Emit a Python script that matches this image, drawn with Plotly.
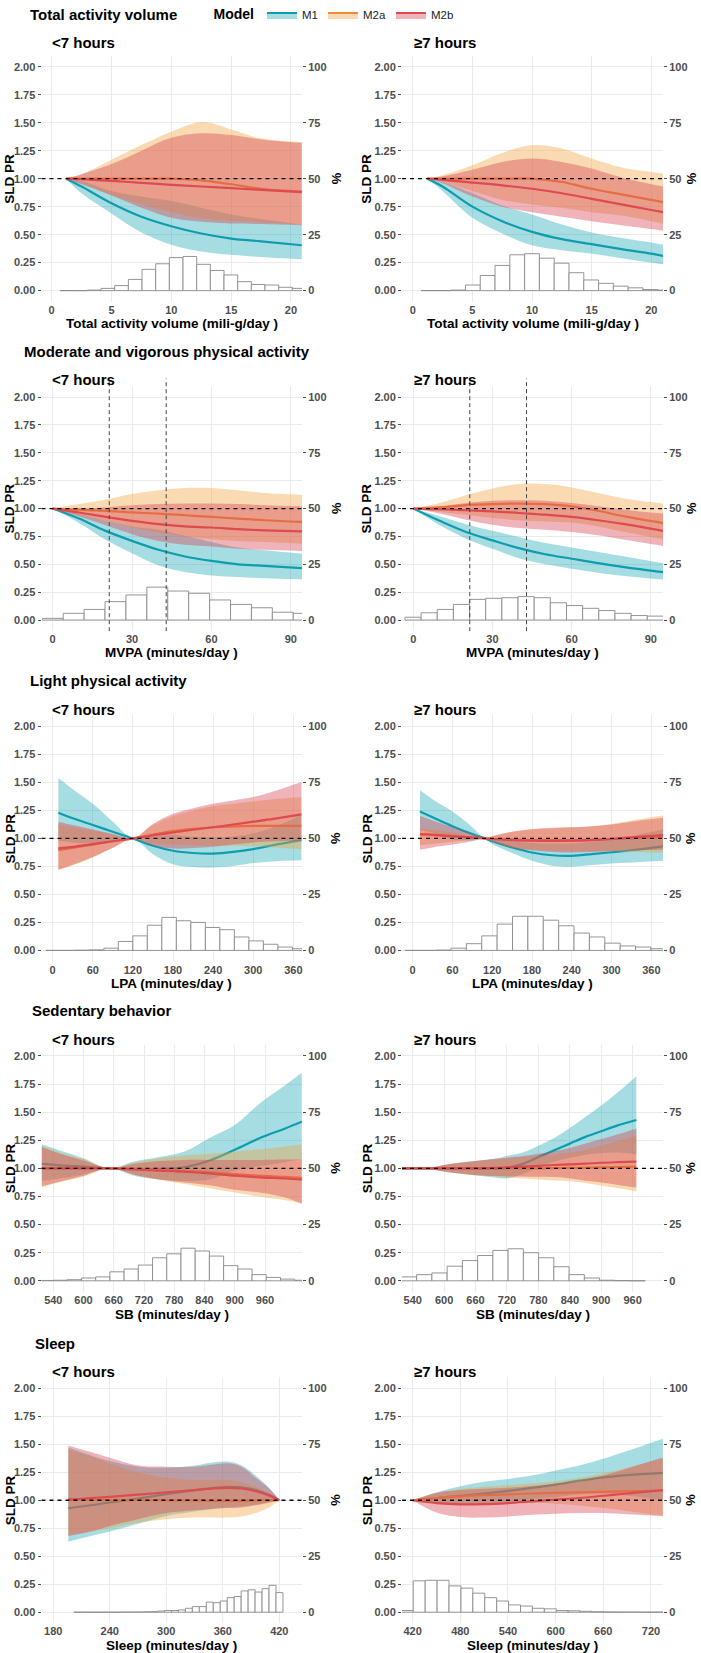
import plotly.graph_objects as go

W, H = 701, 1653
FONT = "Liberation Sans, Arial, Helvetica, sans-serif"

# ============================ DATA ============================
models = ["M1", "M2a", "M2b"]

# ---- Total activity volume, <7 hours
tav_lt7_x = [1.2, 2.5, 5, 7.5, 10, 12.5, 15, 17.5, 20.9]
tav_lt7_m1 = [1.0, 0.93, 0.78, 0.66, 0.575, 0.51, 0.465, 0.44, 0.405]
tav_lt7_m1_lo = [1.0, 0.87, 0.69, 0.52, 0.41, 0.35, 0.32, 0.30, 0.28]
tav_lt7_m1_hi = [1.0, 0.98, 0.89, 0.84, 0.80, 0.74, 0.68, 0.64, 0.59]
tav_lt7_m2a = [1.0, 1.0, 1.0, 1.0, 1.0, 0.985, 0.95, 0.91, 0.885]
tav_lt7_m2a_lo = [1.0, 0.96, 0.855, 0.77, 0.70, 0.645, 0.625, 0.61, 0.59]
tav_lt7_m2a_hi = [1.0, 1.04, 1.17, 1.30, 1.42, 1.505, 1.44, 1.36, 1.325]
tav_lt7_m2b = [1.0, 0.995, 0.98, 0.963, 0.945, 0.93, 0.915, 0.9, 0.88]
tav_lt7_m2b_lo = [1.0, 0.95, 0.85, 0.74, 0.65, 0.615, 0.60, 0.595, 0.585]
tav_lt7_m2b_hi = [1.0, 1.04, 1.13, 1.25, 1.365, 1.405, 1.39, 1.35, 1.32]
tav_lt7_bin_start, tav_lt7_bin_width = 0.70, 1.142
tav_lt7_hist_pct = [0, 0, 0.25, 1, 2.25, 5, 9.5, 12, 14.75, 15.25, 11.75, 9, 7, 4, 2.75, 2.5, 1.5, 1]

# ---- Total activity volume, >=7 hours
tav_ge7_x = [1.23, 2.5, 5, 7.5, 10, 12.5, 15, 17.5, 20, 21]
tav_ge7_m1 = [1.0, 0.93, 0.75, 0.62, 0.525, 0.46, 0.415, 0.37, 0.33, 0.31]
tav_ge7_m1_lo = [1.0, 0.89, 0.65, 0.51, 0.405, 0.36, 0.33, 0.29, 0.25, 0.235]
tav_ge7_m1_hi = [1.0, 0.97, 0.87, 0.76, 0.68, 0.59, 0.52, 0.47, 0.43, 0.41]
tav_ge7_m2a = [1.0, 1.0, 1.0, 1.0, 1.0, 0.97, 0.91, 0.86, 0.81, 0.79]
tav_ge7_m2a_lo = [1.0, 0.97, 0.89, 0.81, 0.77, 0.74, 0.70, 0.67, 0.62, 0.60]
tav_ge7_m2a_hi = [1.0, 1.03, 1.12, 1.23, 1.30, 1.27, 1.18, 1.10, 1.06, 1.045]
tav_ge7_m2b = [1.0, 0.99, 0.965, 0.94, 0.91, 0.87, 0.82, 0.77, 0.72, 0.70]
tav_ge7_m2b_lo = [1.0, 0.96, 0.84, 0.75, 0.70, 0.66, 0.62, 0.585, 0.55, 0.535]
tav_ge7_m2b_hi = [1.0, 1.02, 1.08, 1.15, 1.18, 1.15, 1.09, 1.01, 0.95, 0.93]
tav_ge7_bin_start, tav_ge7_bin_width = 0.70, 1.24
tav_ge7_hist_pct = [0, 0, 0.25, 2.5, 6.75, 11.25, 16, 16.5, 14.5, 12.25, 8, 4.75, 3.25, 2, 1.25, 0.5, 0.25]

# ---- MVPA, <7 hours
mvpa_lt7_x = [0, 10, 20, 30, 40, 50, 60, 70, 80, 94.2]
mvpa_lt7_m1 = [1.0, 0.91, 0.80, 0.71, 0.63, 0.57, 0.53, 0.50, 0.485, 0.465]
mvpa_lt7_m1_lo = [1.0, 0.87, 0.72, 0.60, 0.49, 0.43, 0.40, 0.385, 0.375, 0.365]
mvpa_lt7_m1_hi = [1.0, 0.95, 0.89, 0.84, 0.81, 0.755, 0.70, 0.65, 0.625, 0.595]
mvpa_lt7_m2a = [1.0, 0.99, 0.98, 0.965, 0.955, 0.94, 0.925, 0.91, 0.895, 0.88]
mvpa_lt7_m2a_lo = [1.0, 0.94, 0.89, 0.83, 0.785, 0.75, 0.725, 0.71, 0.70, 0.685]
mvpa_lt7_m2a_hi = [1.0, 1.04, 1.08, 1.13, 1.165, 1.185, 1.185, 1.165, 1.14, 1.125]
mvpa_lt7_m2b = [1.0, 0.965, 0.925, 0.89, 0.86, 0.84, 0.83, 0.815, 0.805, 0.795]
mvpa_lt7_m2b_lo = [1.0, 0.93, 0.85, 0.77, 0.71, 0.675, 0.66, 0.64, 0.63, 0.62]
mvpa_lt7_m2b_hi = [1.0, 1.0, 1.01, 1.03, 1.04, 1.045, 1.045, 1.04, 1.03, 1.02]
mvpa_lt7_bin_start, mvpa_lt7_bin_width = -3.9, 7.9
mvpa_lt7_hist_pct = [0.75, 3, 4.75, 8.25, 11.25, 14.75, 13, 12, 9, 7, 5.5, 3.5, 3]

# ---- MVPA, >=7 hours
mvpa_ge7_x = [0, 10, 20, 30, 40, 50, 60, 70, 80, 94.6]
mvpa_ge7_m1 = [1.0, 0.89, 0.79, 0.715, 0.645, 0.59, 0.55, 0.51, 0.475, 0.43]
mvpa_ge7_m1_lo = [1.0, 0.85, 0.73, 0.64, 0.555, 0.50, 0.46, 0.425, 0.395, 0.363]
mvpa_ge7_m1_hi = [1.0, 0.93, 0.86, 0.80, 0.745, 0.69, 0.65, 0.61, 0.57, 0.51]
mvpa_ge7_m2a = [1.0, 1.01, 1.03, 1.04, 1.045, 1.04, 1.02, 0.98, 0.93, 0.87]
mvpa_ge7_m2a_lo = [1.0, 0.97, 0.945, 0.915, 0.895, 0.885, 0.875, 0.84, 0.79, 0.725]
mvpa_ge7_m2a_hi = [1.0, 1.05, 1.12, 1.18, 1.22, 1.22, 1.19, 1.14, 1.09, 1.045]
mvpa_ge7_m2b = [1.0, 0.995, 0.985, 0.975, 0.96, 0.945, 0.925, 0.895, 0.86, 0.80]
mvpa_ge7_m2b_lo = [1.0, 0.955, 0.90, 0.855, 0.825, 0.81, 0.79, 0.76, 0.72, 0.665]
mvpa_ge7_m2b_hi = [1.0, 1.02, 1.05, 1.07, 1.075, 1.07, 1.05, 1.02, 0.99, 0.955]
mvpa_ge7_bin_start, mvpa_ge7_bin_width = -3.16, 6.12
mvpa_ge7_hist_pct = [1.25, 3.25, 4.75, 7, 9.25, 9.75, 10, 10.5, 10, 7.75, 6.5, 5.25, 4.25, 3, 2, 1.75]
mvpa_guidelines = [21.4, 42.9]

# ---- LPA, <7 hours
lpa_lt7_x = [8.5, 30, 60, 90, 120, 150, 180, 210, 240, 270, 300, 330, 372]
lpa_lt7_m1 = [1.23, 1.18, 1.12, 1.06, 1.0, 0.935, 0.89, 0.87, 0.865, 0.88, 0.905, 0.94, 0.985]
lpa_lt7_m1_lo = [0.98, 0.965, 0.955, 0.975, 1.0, 0.86, 0.77, 0.745, 0.74, 0.755, 0.78, 0.795, 0.805]
lpa_lt7_m1_hi = [1.54, 1.44, 1.31, 1.15, 1.0, 1.015, 1.03, 1.015, 1.01, 1.02, 1.045, 1.10, 1.21]
lpa_lt7_m2a = [0.895, 0.915, 0.945, 0.975, 1.0, 1.035, 1.065, 1.085, 1.10, 1.108, 1.112, 1.113, 1.113]
lpa_lt7_m2a_lo = [0.72, 0.76, 0.83, 0.92, 1.0, 0.955, 0.945, 0.94, 0.935, 0.935, 0.93, 0.92, 0.905]
lpa_lt7_m2a_hi = [1.13, 1.10, 1.07, 1.035, 1.0, 1.12, 1.20, 1.25, 1.29, 1.31, 1.33, 1.35, 1.37]
lpa_lt7_m2b = [0.912, 0.925, 0.95, 0.975, 1.0, 1.027, 1.053, 1.078, 1.10, 1.125, 1.15, 1.175, 1.215]
lpa_lt7_m2b_lo = [0.72, 0.765, 0.835, 0.915, 1.0, 0.935, 0.91, 0.915, 0.925, 0.945, 0.965, 0.975, 0.98]
lpa_lt7_m2b_hi = [1.15, 1.12, 1.08, 1.04, 1.0, 1.13, 1.22, 1.27, 1.31, 1.34, 1.37, 1.42, 1.505]
lpa_lt7_bin_start, lpa_lt7_bin_width = -10.3, 21.7
lpa_lt7_hist_pct = [0, 0, 0.1, 0.25, 1, 4, 6.5, 11.25, 14.75, 13.25, 12.5, 10.25, 9.25, 6, 4.25, 2.75, 1.5, 0.75]

# ---- LPA, >=7 hours
lpa_ge7_x = [11, 30, 60, 90, 109, 120, 150, 180, 210, 240, 270, 300, 330, 378]
lpa_ge7_m1 = [1.24, 1.19, 1.11, 1.04, 1.0, 0.975, 0.92, 0.875, 0.85, 0.845, 0.86, 0.877, 0.895, 0.93]
lpa_ge7_m1_lo = [1.075, 1.05, 0.99, 0.983, 1.0, 0.95, 0.87, 0.80, 0.757, 0.748, 0.762, 0.777, 0.785, 0.80]
lpa_ge7_m1_hi = [1.43, 1.35, 1.24, 1.10, 1.0, 1.0, 0.975, 0.96, 0.955, 0.955, 0.97, 0.99, 1.02, 1.08]
lpa_ge7_m2a = [1.035, 1.03, 1.02, 1.008, 1.0, 0.997, 0.99, 0.986, 0.985, 0.985, 0.99, 0.995, 1.0, 1.01]
lpa_ge7_m2a_lo = [0.94, 0.95, 0.97, 0.99, 1.0, 0.975, 0.92, 0.90, 0.89, 0.885, 0.885, 0.885, 0.88, 0.875]
lpa_ge7_m2a_hi = [1.09, 1.08, 1.055, 1.02, 1.0, 1.02, 1.06, 1.08, 1.09, 1.10, 1.11, 1.13, 1.16, 1.205]
lpa_ge7_m2b = [1.04, 1.035, 1.02, 1.008, 1.0, 0.995, 0.985, 0.98, 0.978, 0.98, 0.985, 0.995, 1.01, 1.03]
lpa_ge7_m2b_lo = [0.90, 0.92, 0.945, 0.975, 1.0, 0.975, 0.915, 0.895, 0.88, 0.875, 0.88, 0.885, 0.895, 0.90]
lpa_ge7_m2b_hi = [1.20, 1.16, 1.10, 1.04, 1.0, 1.02, 1.06, 1.085, 1.095, 1.10, 1.11, 1.125, 1.15, 1.185]
lpa_ge7_bin_start, lpa_ge7_bin_width = -11.8, 23.2
lpa_ge7_hist_pct = [0, 0, 0.15, 1, 3, 6.5, 11.75, 15.25, 15.25, 13.5, 11, 7.75, 6, 3.25, 2, 1.5, 0.75]

# ---- SB, <7 hours
sb_lt7_x = [517, 560, 600, 652, 700, 750, 800, 850, 900, 950, 1000, 1033]
sb_lt7_m1 = [1.04, 1.025, 1.015, 1.0, 0.995, 0.995, 1.01, 1.07, 1.165, 1.27, 1.355, 1.415]
sb_lt7_m1_lo = [0.89, 0.914, 0.945, 1.0, 0.934, 0.90, 0.887, 0.90, 0.98, 1.02, 1.055, 1.08]
sb_lt7_m1_hi = [1.215, 1.15, 1.09, 1.0, 1.06, 1.10, 1.15, 1.27, 1.385, 1.58, 1.74, 1.85]
sb_lt7_m2a = [1.0, 1.0, 1.0, 1.0, 0.995, 0.99, 0.98, 0.965, 0.95, 0.935, 0.925, 0.915]
sb_lt7_m2a_lo = [0.833, 0.885, 0.926, 1.0, 0.943, 0.899, 0.861, 0.824, 0.785, 0.747, 0.716, 0.689]
sb_lt7_m2a_hi = [1.20, 1.13, 1.08, 1.0, 1.05, 1.09, 1.115, 1.13, 1.15, 1.17, 1.195, 1.215]
sb_lt7_m2b = [1.0, 1.0, 1.0, 1.0, 0.99, 0.98, 0.97, 0.955, 0.935, 0.92, 0.91, 0.90]
sb_lt7_m2b_lo = [0.84, 0.89, 0.935, 1.0, 0.945, 0.90, 0.875, 0.85, 0.81, 0.785, 0.74, 0.685]
sb_lt7_m2b_hi = [1.19, 1.12, 1.07, 1.0, 1.04, 1.065, 1.075, 1.075, 1.075, 1.075, 1.078, 1.08]
sb_lt7_bin_start, sb_lt7_bin_width = 511.3, 28.2
sb_lt7_hist_pct = [0.15, 0.25, 0.5, 1.25, 1.75, 4, 5.25, 7, 10.25, 12, 14.5, 13.25, 11, 6.75, 5.25, 2.75, 1.5, 0.75, 0.25]

# ---- SB, >=7 hours
sb_ge7_x = [519, 563, 600, 650, 700, 720, 750, 780, 810, 840, 870, 900, 930, 967]
sb_ge7_m1 = [1.0, 1.0, 1.0, 1.0, 0.998, 1.005, 1.04, 1.10, 1.16, 1.22, 1.28, 1.33, 1.38, 1.43]
sb_ge7_m1_lo = [0.99, 1.0, 0.97, 0.943, 0.917, 0.91, 0.949, 1.008, 1.059, 1.094, 1.122, 1.134, 1.14, 1.124]
sb_ge7_m1_hi = [1.01, 1.0, 1.03, 1.06, 1.09, 1.11, 1.14, 1.20, 1.27, 1.36, 1.46, 1.56, 1.67, 1.82]
sb_ge7_m2a = [1.0, 1.0, 1.0, 1.0, 1.0, 1.0, 1.0, 1.0, 1.002, 1.004, 1.006, 1.008, 1.011, 1.015]
sb_ge7_m2a_lo = [0.99, 1.0, 0.971, 0.943, 0.926, 0.917, 0.909, 0.90, 0.892, 0.885, 0.87, 0.847, 0.825, 0.795]
sb_ge7_m2a_hi = [1.01, 1.0, 1.03, 1.06, 1.08, 1.09, 1.10, 1.11, 1.125, 1.14, 1.165, 1.20, 1.24, 1.295]
sb_ge7_m2b = [1.0, 1.0, 1.0, 1.0, 1.005, 1.008, 1.015, 1.022, 1.03, 1.035, 1.042, 1.05, 1.055, 1.06]
sb_ge7_m2b_lo = [0.99, 1.0, 0.971, 0.943, 0.931, 0.928, 0.928, 0.925, 0.923, 0.91, 0.89, 0.875, 0.855, 0.83]
sb_ge7_m2b_hi = [1.01, 1.0, 1.03, 1.06, 1.085, 1.095, 1.11, 1.13, 1.15, 1.18, 1.22, 1.26, 1.30, 1.355]
sb_ge7_bin_start, sb_ge7_bin_width = 518.5, 29.1
sb_ge7_hist_pct = [1.75, 2.75, 3.5, 6.5, 9, 11.25, 13.5, 14.25, 12.5, 10.25, 6.25, 2.75, 1.25, 0.25, 0.1, 0]

# ---- Sleep, <7 hours
sleep_lt7_x = [196, 220, 240, 270, 300, 330, 350, 365, 380, 395, 410, 420]
sleep_lt7_m1 = [0.93, 0.955, 0.98, 1.015, 1.055, 1.09, 1.11, 1.12, 1.115, 1.09, 1.045, 1.0]
sleep_lt7_m1_lo = [0.63, 0.68, 0.72, 0.79, 0.86, 0.90, 0.92, 0.935, 0.945, 0.96, 0.985, 1.0]
sleep_lt7_m1_hi = [1.47, 1.40, 1.35, 1.30, 1.29, 1.31, 1.34, 1.345, 1.31, 1.22, 1.10, 1.0]
sleep_lt7_m2a = [1.01, 1.005, 1.0, 1.0, 1.0, 0.998, 0.995, 0.995, 0.995, 0.997, 0.999, 1.0]
sleep_lt7_m2a_lo = [0.69, 0.72, 0.75, 0.80, 0.83, 0.845, 0.845, 0.845, 0.855, 0.885, 0.94, 1.0]
sleep_lt7_m2a_hi = [1.45, 1.39, 1.33, 1.25, 1.20, 1.18, 1.18, 1.18, 1.16, 1.12, 1.06, 1.0]
sleep_lt7_m2b = [1.005, 1.02, 1.03, 1.05, 1.07, 1.09, 1.105, 1.11, 1.105, 1.08, 1.04, 1.0]
sleep_lt7_m2b_lo = [0.68, 0.72, 0.77, 0.83, 0.885, 0.91, 0.925, 0.93, 0.935, 0.955, 0.98, 1.0]
sleep_lt7_m2b_hi = [1.49, 1.43, 1.38, 1.31, 1.30, 1.30, 1.32, 1.33, 1.30, 1.20, 1.10, 1.0]
sleep_lt7_bin_start, sleep_lt7_bin_width = 201.9, 7.4
sleep_lt7_hist_pct = [0, 0, 0, 0, 0, 0, 0, 0.05, 0.05, 0.1, 0.15, 0.25, 0.5, 0.75, 0.75, 1, 1.75, 2.5, 2.5,
                      4.5, 4.25, 5, 6.5, 7, 9.5, 10, 9, 10.5, 12, 8.75]

# ---- Sleep, >=7 hours
sleep_ge7_x = [420, 450, 480, 510, 540, 570, 600, 630, 660, 690, 735]
sleep_ge7_m1 = [1.0, 1.02, 1.04, 1.06, 1.083, 1.11, 1.14, 1.175, 1.205, 1.225, 1.245]
sleep_ge7_m1_lo = [1.0, 0.972, 0.961, 0.965, 0.986, 1.01, 1.027, 1.054, 1.06, 1.042, 1.0]
sleep_ge7_m1_hi = [1.0, 1.07, 1.125, 1.165, 1.19, 1.22, 1.265, 1.31, 1.37, 1.44, 1.55]
sleep_ge7_m2a = [1.0, 1.02, 1.035, 1.045, 1.052, 1.06, 1.065, 1.07, 1.075, 1.08, 1.085]
sleep_ge7_m2a_lo = [1.0, 0.982, 0.974, 0.975, 0.975, 0.977, 0.969, 0.954, 0.932, 0.904, 0.859]
sleep_ge7_m2a_hi = [1.0, 1.06, 1.10, 1.12, 1.135, 1.15, 1.17, 1.20, 1.24, 1.29, 1.37]
sleep_ge7_m2b = [1.0, 0.975, 0.963, 0.965, 0.975, 0.99, 1.005, 1.02, 1.04, 1.06, 1.09]
sleep_ge7_m2b_lo = [1.0, 0.89, 0.85, 0.845, 0.855, 0.87, 0.88, 0.885, 0.885, 0.875, 0.86]
sleep_ge7_m2b_hi = [1.0, 1.068, 1.091, 1.102, 1.112, 1.127, 1.148, 1.176, 1.222, 1.284, 1.381]
sleep_ge7_bin_start, sleep_ge7_bin_width = 405.8, 15
sleep_ge7_hist_pct = [0.75, 14, 14.25, 14.25, 11.75, 10.75, 8.5, 6.5, 5, 3.25, 2.75, 1.75, 1.5, 0.75,
                      0.65, 0.4, 0.2, 0.1, 0.05, 0.05, 0.02, 0.02]

# text
section_titles = ["Total activity volume", "Moderate and vigorous physical activity",
                  "Light physical activity", "Sedentary behavior", "Sleep"]
panel_titles = ["<7 hours", "≥7 hours"]
x_titles = ["Total activity volume (mili-g/day )", "MVPA (minutes/day )", "LPA (minutes/day )",
            "SB (minutes/day )", "Sleep (minutes/day )"]
y_ticks_left = [0, 0.25, 0.5, 0.75, 1.0, 1.25, 1.5, 1.75, 2.0]
y_ticks_right = [0, 25, 50, 75, 100]

panels = [
    dict(x=tav_lt7_x, est=[tav_lt7_m1, tav_lt7_m2a, tav_lt7_m2b],
         lo=[tav_lt7_m1_lo, tav_lt7_m2a_lo, tav_lt7_m2b_lo], hi=[tav_lt7_m1_hi, tav_lt7_m2a_hi, tav_lt7_m2b_hi],
         b0=tav_lt7_bin_start, bw=tav_lt7_bin_width, hist=tav_lt7_hist_pct),
    dict(x=tav_ge7_x, est=[tav_ge7_m1, tav_ge7_m2a, tav_ge7_m2b],
         lo=[tav_ge7_m1_lo, tav_ge7_m2a_lo, tav_ge7_m2b_lo], hi=[tav_ge7_m1_hi, tav_ge7_m2a_hi, tav_ge7_m2b_hi],
         b0=tav_ge7_bin_start, bw=tav_ge7_bin_width, hist=tav_ge7_hist_pct),
    dict(x=mvpa_lt7_x, est=[mvpa_lt7_m1, mvpa_lt7_m2a, mvpa_lt7_m2b],
         lo=[mvpa_lt7_m1_lo, mvpa_lt7_m2a_lo, mvpa_lt7_m2b_lo], hi=[mvpa_lt7_m1_hi, mvpa_lt7_m2a_hi, mvpa_lt7_m2b_hi],
         b0=mvpa_lt7_bin_start, bw=mvpa_lt7_bin_width, hist=mvpa_lt7_hist_pct),
    dict(x=mvpa_ge7_x, est=[mvpa_ge7_m1, mvpa_ge7_m2a, mvpa_ge7_m2b],
         lo=[mvpa_ge7_m1_lo, mvpa_ge7_m2a_lo, mvpa_ge7_m2b_lo], hi=[mvpa_ge7_m1_hi, mvpa_ge7_m2a_hi, mvpa_ge7_m2b_hi],
         b0=mvpa_ge7_bin_start, bw=mvpa_ge7_bin_width, hist=mvpa_ge7_hist_pct),
    dict(x=lpa_lt7_x, est=[lpa_lt7_m1, lpa_lt7_m2a, lpa_lt7_m2b],
         lo=[lpa_lt7_m1_lo, lpa_lt7_m2a_lo, lpa_lt7_m2b_lo], hi=[lpa_lt7_m1_hi, lpa_lt7_m2a_hi, lpa_lt7_m2b_hi],
         b0=lpa_lt7_bin_start, bw=lpa_lt7_bin_width, hist=lpa_lt7_hist_pct),
    dict(x=lpa_ge7_x, est=[lpa_ge7_m1, lpa_ge7_m2a, lpa_ge7_m2b],
         lo=[lpa_ge7_m1_lo, lpa_ge7_m2a_lo, lpa_ge7_m2b_lo], hi=[lpa_ge7_m1_hi, lpa_ge7_m2a_hi, lpa_ge7_m2b_hi],
         b0=lpa_ge7_bin_start, bw=lpa_ge7_bin_width, hist=lpa_ge7_hist_pct),
    dict(x=sb_lt7_x, est=[sb_lt7_m1, sb_lt7_m2a, sb_lt7_m2b],
         lo=[sb_lt7_m1_lo, sb_lt7_m2a_lo, sb_lt7_m2b_lo], hi=[sb_lt7_m1_hi, sb_lt7_m2a_hi, sb_lt7_m2b_hi],
         b0=sb_lt7_bin_start, bw=sb_lt7_bin_width, hist=sb_lt7_hist_pct),
    dict(x=sb_ge7_x, est=[sb_ge7_m1, sb_ge7_m2a, sb_ge7_m2b],
         lo=[sb_ge7_m1_lo, sb_ge7_m2a_lo, sb_ge7_m2b_lo], hi=[sb_ge7_m1_hi, sb_ge7_m2a_hi, sb_ge7_m2b_hi],
         b0=sb_ge7_bin_start, bw=sb_ge7_bin_width, hist=sb_ge7_hist_pct),
    dict(x=sleep_lt7_x, est=[sleep_lt7_m1, sleep_lt7_m2a, sleep_lt7_m2b],
         lo=[sleep_lt7_m1_lo, sleep_lt7_m2a_lo, sleep_lt7_m2b_lo], hi=[sleep_lt7_m1_hi, sleep_lt7_m2a_hi, sleep_lt7_m2b_hi],
         b0=sleep_lt7_bin_start, bw=sleep_lt7_bin_width, hist=sleep_lt7_hist_pct),
    dict(x=sleep_ge7_x, est=[sleep_ge7_m1, sleep_ge7_m2a, sleep_ge7_m2b],
         lo=[sleep_ge7_m1_lo, sleep_ge7_m2a_lo, sleep_ge7_m2b_lo], hi=[sleep_ge7_m1_hi, sleep_ge7_m2a_hi, sleep_ge7_m2b_hi],
         b0=sleep_ge7_bin_start, bw=sleep_ge7_bin_width, hist=sleep_ge7_hist_pct),
]

# ============================ STYLE / LAYOUT ============================
LINE = ["#0E9DAF", "#EF8B3B", "#DD4A50"]
FILL = ["rgba(20,166,180,0.38)", "rgba(240,162,62,0.40)", "rgba(214,64,80,0.40)"]

X_RANGES = [[-0.85, 20.92], [-0.9, 20.98], [-4.2, 94.2], [-4.28, 94.6], [-16.7, 372.9],
            [-16.1, 377.6], [516.6, 1033.4], [519.6, 1017.9], [167.5, 444.1], [406.6, 735.2]]
X_TICKS = [[0, 5, 10, 15, 20]] * 2 + [[0, 30, 60, 90]] * 2 + [[0, 60, 120, 180, 240, 300, 360]] * 2 + \
          [[540, 600, 660, 720, 780, 840, 900, 960]] * 2 + [[180, 240, 300, 360, 420], [420, 480, 540, 600, 660, 720]]

COL_PX = [(41.5, 302.0), (402.0, 663.0)]
ROW_PX = [(47.75, 295.25), (379.8, 626.2), (710.75, 958.25), (1041.7, 1290.3), (1375.75, 1623.25)]
SECTION_PX = [(28, 7), (22, 345), (28, 676), (30, 1007), (33, 1342)]
PTITLE_X = [50, 412]
PTITLE_Y = [35, 373, 705, 1037, 1370]
XTITLE_Y = [317, 648, 980, 1313, 1645]
PCT_TITLE_X = [336, 691]


def px(xp):
    return xp / W


def py(yp):
    return 1 - yp / H


fig = go.Figure()

tickfont = dict(family=FONT, size=11, color="#4D4D4D", weight="bold")
layout = dict(width=W, height=H, margin=dict(l=0, r=0, t=0, b=0),
              paper_bgcolor="white", plot_bgcolor="white", showlegend=True,
              font=dict(family=FONT, color="black"))
annotations = []
shapes = []

for i, p in enumerate(panels):
    row, col = divmod(i, 2)
    xa = "x" if i == 0 else f"x{i + 1}"
    ya = "y" if i == 0 else f"y{2 * i + 1}"
    ya2 = f"y{2 * i + 2}"
    for m in range(3):
        fig.add_trace(go.Scatter(x=p["x"], y=p["lo"][m], mode="lines",
                                 line=dict(width=0, shape="spline", color=LINE[m]),
                                 xaxis=xa, yaxis=ya, showlegend=False, hoverinfo="skip"))
        fig.add_trace(go.Scatter(x=p["x"], y=p["hi"][m], mode="lines",
                                 line=dict(width=0, shape="spline", color=LINE[m]),
                                 fill="tonexty", fillcolor=FILL[m],
                                 xaxis=xa, yaxis=ya, showlegend=False, hoverinfo="skip"))
        fig.add_trace(go.Scatter(x=p["x"], y=p["est"][m], mode="lines",
                                 line=dict(width=2.2, shape="spline", color=LINE[m]),
                                 xaxis=xa, yaxis=ya, showlegend=False, hoverinfo="skip"))
    centers = [p["b0"] + p["bw"] * (k + 0.5) for k in range(len(p["hist"]))]
    fig.add_trace(go.Bar(x=centers, y=p["hist"], width=p["bw"],
                         marker=dict(color="white", line=dict(color="#8A8A8A", width=0.9)),
                         xaxis=xa, yaxis=ya2, showlegend=False, hoverinfo="skip"))

    x0p, x1p = COL_PX[col]
    tp, bp = ROW_PX[row]
    xkey = "xaxis" if i == 0 else f"xaxis{i + 1}"
    ykey = "yaxis" if i == 0 else f"yaxis{2 * i + 1}"
    y2key = f"yaxis{2 * i + 2}"
    layout[xkey] = dict(domain=[px(x0p), px(x1p)], anchor=ya, range=X_RANGES[i],
                        tickvals=X_TICKS[i], showgrid=True, gridcolor="#EBEBEB", gridwidth=1,
                        zeroline=False, showline=False, ticks="", tickfont=tickfont)
    layout[ykey] = dict(domain=[py(bp), py(tp)], anchor=xa, range=[-0.1, 2.1],
                        tickvals=y_ticks_left, tickformat=".2f", showgrid=True,
                        gridcolor="#EBEBEB", gridwidth=1, zeroline=False, showline=False,
                        ticks="outside", ticklen=3, tickcolor="#4D4D4D", tickwidth=1,
                        tickfont=tickfont)
    layout[y2key] = dict(overlaying=ya, anchor=xa, side="right", range=[-5, 105],
                         tickvals=y_ticks_right, showgrid=False, zeroline=False, showline=False,
                         ticks="outside", ticklen=3, tickcolor="#4D4D4D", tickwidth=1,
                         tickfont=tickfont)

    # reference line at PR = 1
    shapes.append(dict(type="line", xref=f"{xa} domain", yref=ya, x0=0, x1=1, y0=1, y1=1,
                       line=dict(color="black", width=1.3, dash="4px,4px"), layer="above"))
    if row == 1:
        for g in mvpa_guidelines:
            shapes.append(dict(type="line", xref=xa, yref=f"{ya} domain", x0=g, x1=g, y0=0, y1=1.03,
                               line=dict(color="#444444", width=1, dash="4px,3px"), layer="above"))

    # titles
    annotations.append(dict(text=panel_titles[col], x=px(PTITLE_X[col]), y=py(PTITLE_Y[row]),
                            xref="paper", yref="paper", xanchor="left", yanchor="middle", showarrow=False,
                            font=dict(family=FONT, size=15, color="black", weight="bold")))
    annotations.append(dict(text=x_titles[row], x=px((x0p + x1p) / 2), y=py(XTITLE_Y[row]),
                            xref="paper", yref="paper", xanchor="center", yanchor="middle", showarrow=False,
                            font=dict(family=FONT, size=13.5, color="black", weight="bold")))
    annotations.append(dict(text="SLD PR", x=px(10 if col == 0 else 367), y=py((tp + bp) / 2),
                            xref="paper", yref="paper", xanchor="center", yanchor="middle", showarrow=False,
                            textangle=-90,
                            font=dict(family=FONT, size=13.5, color="black", weight="bold")))
    annotations.append(dict(text="%", x=px(PCT_TITLE_X[col]), y=py((tp + bp) / 2),
                            xref="paper", yref="paper", xanchor="center", yanchor="middle", showarrow=False,
                            textangle=90,
                            font=dict(family=FONT, size=13, color="black", weight="bold")))

for r, t in enumerate(section_titles):
    annotations.append(dict(text=t, x=px(SECTION_PX[r][0]), y=py(SECTION_PX[r][1]),
                            xref="paper", yref="paper", xanchor="left", yanchor="middle", showarrow=False,
                            font=dict(family=FONT, size=15, color="black", weight="bold")))

# legend entries
for m, name in enumerate(models):
    fig.add_trace(go.Scatter(x=[None], y=[None], mode="lines", name=name,
                             line=dict(color=LINE[m], width=2), fill="toself", fillcolor=FILL[m],
                             xaxis="x", yaxis="y", showlegend=True))

layout["legend"] = dict(orientation="h", x=px(335), xanchor="center", y=py(7), yanchor="middle",
                        traceorder="normal",
                        title=dict(text="Model", font=dict(family=FONT, size=14, color="black", weight="bold")),
                        font=dict(family=FONT, size=11.5, color="#222222"),
                        itemwidth=30, bgcolor="rgba(0,0,0,0)", tracegroupgap=0)
layout["annotations"] = annotations
layout["shapes"] = shapes
fig.update_layout(**layout)

fig.write_html("out.html")
